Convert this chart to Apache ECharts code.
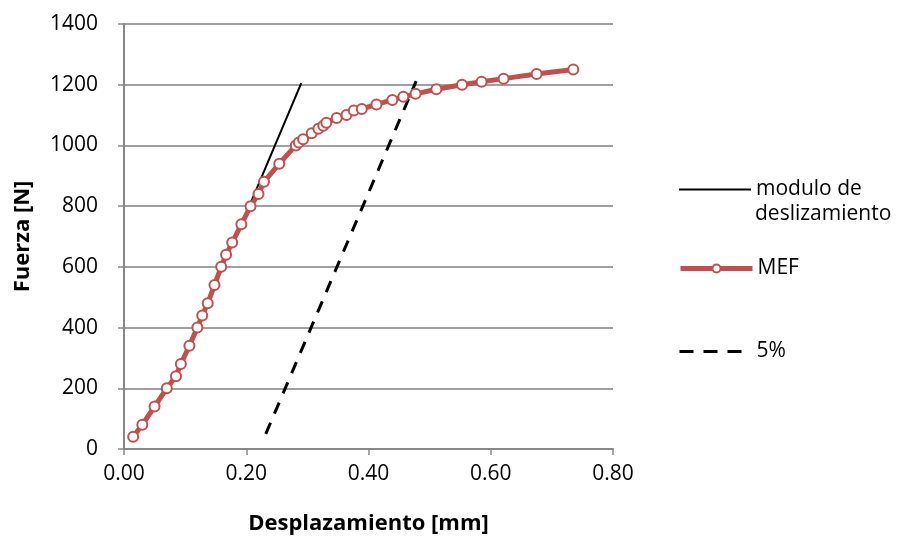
<!DOCTYPE html>
<html>
<head>
<meta charset="utf-8">
<script src="https://cdn.jsdelivr.net/npm/echarts@6/dist/echarts.min.js"></script>
<style>
  html, body { margin: 0; padding: 0; background: #fff; }
  #chart { width: 908px; height: 536px; }
</style>
</head>
<body>
<div id="chart"></div>
<script>
// MEF curve, displacement [mm] and force [N]
const mefX = [0.015, 0.03, 0.05, 0.07, 0.085, 0.093, 0.107, 0.12, 0.128, 0.137, 0.148, 0.159, 0.167, 0.177,
  0.192, 0.207, 0.22, 0.229, 0.254, 0.281, 0.286, 0.293, 0.307, 0.318, 0.326, 0.331, 0.348, 0.364, 0.376,
  0.389, 0.413, 0.439, 0.457, 0.477, 0.511, 0.553, 0.585, 0.621, 0.675, 0.735]
const mefY = [40, 80, 140, 200, 240, 280, 340, 400, 440, 480, 540, 600, 640, 680,
  740, 800, 840, 880, 940, 1000, 1010, 1020, 1040, 1055, 1065, 1075, 1090, 1100, 1115,
  1120, 1135, 1150, 1160, 1170, 1185, 1200, 1210, 1220, 1235, 1250]
// slip modulus line
const moduloX = [0.205, 0.29]
const moduloY = [800, 1205]
// 5% offset line
const offsetX = [0.232, 0.478]
const offsetY = [50, 1212]

const xTicks = ['0.00', '0.20', '0.40', '0.60', '0.80']
const yTicks = [0, 200, 400, 600, 800, 1000, 1200, 1400]

const zip = (xs, ys) => xs.map((x, i) => [x, ys[i]])
const font = 'Open Sans'
const legendText = { fontFamily: font, fontSize: 21, color: '#000' }

const myChart = echarts.init(document.getElementById('chart'))
const options = {
  animation: false,
  grid: { left: 124, right: 295, top: 24, bottom: 87, outerBoundsMode: 'none' },
  xAxis: {
    type: 'value',
    min: 0,
    max: 0.8,
    interval: 0.2,
    name: 'Desplazamiento [mm]',
    nameLocation: 'middle',
    nameGap: 64,
    nameTextStyle: { fontFamily: font, fontWeight: 'bold', fontSize: 22, color: '#000' },
    axisLine: { lineStyle: { color: '#888', width: 2 } },
    axisTick: { show: true, length: 6, lineStyle: { color: '#888', width: 1.5 } },
    axisLabel: {
      margin: 15,
      fontFamily: font,
      fontSize: 21,
      color: '#000',
      formatter: (v) => xTicks[Math.round(v / 0.2)]
    },
    splitLine: { show: false }
  },
  yAxis: {
    type: 'value',
    min: 0,
    max: 1400,
    interval: 200,
    name: 'Fuerza [N]',
    nameLocation: 'middle',
    nameGap: 90,
    nameTextStyle: { fontFamily: font, fontWeight: 'bold', fontSize: 22, color: '#000' },
    axisLine: { show: true, lineStyle: { color: '#888', width: 2 } },
    axisTick: { show: true, length: 6, lineStyle: { color: '#888', width: 1.5 } },
    axisLabel: {
      margin: 26,
      fontFamily: font,
      fontSize: 21,
      color: '#000',
      formatter: (v) => (yTicks.includes(v) ? String(v) : '')
    },
    splitLine: { show: true, lineStyle: { color: '#a0a0a0', width: 2 } }
  },
  legend: [
    {
      data: ['modulo de deslizamiento'],
      left: 673,
      top: 174,
      itemWidth: 72,
      itemHeight: 14,
      formatter: () => 'modulo de',
      itemStyle: { opacity: 0 },
      lineStyle: { width: 2 },
      textStyle: legendText
    },
    {
      data: ['MEF'],
      left: 673,
      top: 253,
      itemWidth: 72,
      itemHeight: 10,
      lineStyle: { width: 5 },
      textStyle: legendText
    },
    {
      data: ['5%'],
      left: 673,
      top: 336,
      itemWidth: 72,
      itemHeight: 14,
      itemStyle: { opacity: 0 },
      lineStyle: { width: 3, type: [14, 10] },
      textStyle: legendText
    }
  ],
  graphic: [
    {
      type: 'text',
      left: 755,
      top: 204,
      style: { text: 'deslizamiento', font: '21px "Open Sans"', fill: '#000' }
    }
  ],
  series: [
    {
      name: 'modulo de deslizamiento',
      type: 'line',
      data: zip(moduloX, moduloY),
      symbol: 'none',
      lineStyle: { color: '#000', width: 2 },
      itemStyle: { color: '#000' },
      z: 3
    },
    {
      name: 'MEF',
      type: 'line',
      data: zip(mefX, mefY),
      symbol: 'circle',
      symbolSize: 10,
      lineStyle: { color: '#c0504d', width: 5 },
      itemStyle: { color: '#fff', borderColor: '#c0504d', borderWidth: 2 },
      z: 4
    },
    {
      name: '5%',
      type: 'line',
      data: zip(offsetX, offsetY),
      symbol: 'none',
      lineStyle: { color: '#000', width: 3, type: [12, 10] },
      itemStyle: { color: '#000' },
      z: 3
    }
  ]
}
myChart.setOption(options)
</script>
</body>
</html>
